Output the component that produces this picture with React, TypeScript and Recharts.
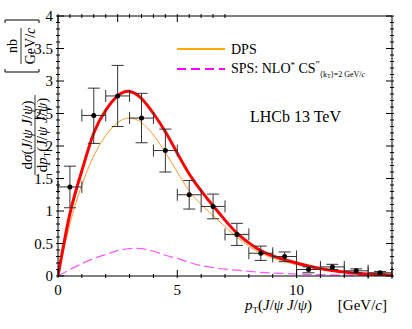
import React from 'react';
import { ComposedChart, Line, Scatter, ErrorBar, XAxis, YAxis, Customized } from 'recharts';

const ptGrid = [0, 0.5, 1, 1.5, 2, 2.5, 3, 3.5, 4, 4.5, 5, 5.5, 6, 6.5, 7, 7.5, 8, 8.5, 9, 9.5, 10, 10.5, 11, 11.5, 12, 12.5, 13, 13.5, 14];
const totalFit = [0, 0.96, 1.62, 2.2, 2.55, 2.77, 2.84, 2.73, 2.5, 2.22, 1.89, 1.57, 1.31, 1.08, 0.86, 0.66, 0.51, 0.39, 0.31, 0.25, 0.2, 0.155, 0.115, 0.085, 0.06, 0.042, 0.03, 0.021, 0.015];
const dpsFit = [0, 0.8, 1.4, 1.85, 2.16, 2.36, 2.43, 2.36, 2.17, 1.9, 1.6, 1.31, 1.1, 0.93, 0.76, 0.6, 0.46, 0.35, 0.28, 0.22, 0.175, 0.135, 0.1, 0.075, 0.053, 0.037, 0.026, 0.018, 0.013];
const spsFit = [0, 0.1, 0.19, 0.27, 0.33, 0.39, 0.42, 0.42, 0.38, 0.32, 0.27, 0.21, 0.16, 0.13, 0.105, 0.09, 0.072, 0.057, 0.046, 0.038, 0.03, 0.025, 0.02, 0.016, 0.012, 0.01, 0.008, 0.006, 0.005];

// LHCb data points
const binCentres = [0.5, 1.5, 2.5, 3.5, 4.5, 5.5, 6.5, 7.5, 8.5, 9.5, 10.5, 11.5, 12.5, 13.5];
const measured = [1.37, 2.47, 2.77, 2.43, 1.93, 1.25, 1.07, 0.64, 0.35, 0.3, 0.1, 0.14, 0.08, 0.05];
const errLow = [0.32, 0.43, 0.47, 0.38, 0.33, 0.22, 0.19, 0.17, 0.11, 0.08, 0.05, 0.04, 0.03, 0.02];
const errHigh = [0.32, 0.42, 0.47, 0.38, 0.33, 0.22, 0.19, 0.17, 0.11, 0.07, 0.04, 0.04, 0.03, 0.02];
const binHalfWidth = 0.5;

const xMajorLabels = ['0', '5', '10'];
const yMajorLabels = ['0', '0.5', '1', '1.5', '2', '2.5', '3', '3.5', '4'];

const curveData = ptGrid.map((x, i) => ({ x, total: totalFit[i], dps: dpsFit[i], sps: spsFit[i] }));
const points = binCentres.map((x, i) => ({
  x,
  y: measured[i],
  ey: [errLow[i], errHigh[i]],
  ex: [binHalfWidth, binHalfWidth],
}));

const xTickPos = Array.from({ length: 15 }, (_, i) => i);
const yTickPos = Array.from({ length: 41 }, (_, i) => i / 10);

const FONT = '"Liberation Serif", "DejaVu Serif", serif';

const findLabel = (labels: string[], v: number) => labels.find((l) => Math.abs(parseFloat(l) - v) < 1e-6);

const YTick = (props: any) => {
  const { x, y, payload, side } = props;
  const label = findLabel(yMajorLabels, payload.value);
  const len = label ? 8 : 4;
  const dir = side === 'left' ? 1 : -1;
  return (
    <g>
      <line x1={x} y1={y} x2={x + dir * len} y2={y} stroke="#000" strokeWidth={1} />
      {side === 'left' && label && (
        <text x={x - 3} y={y + 5} textAnchor="end" fontFamily={FONT} fontSize={15} fill="#000">
          {label}
        </text>
      )}
    </g>
  );
};

const XTick = (props: any) => {
  const { x, y, payload, side } = props;
  const label = findLabel(xMajorLabels, payload.value);
  const len = label ? 8 : 4;
  const dir = side === 'bottom' ? -1 : 1;
  return (
    <g>
      <line x1={x} y1={y} x2={x} y2={y + dir * len} stroke="#000" strokeWidth={1} />
      {side === 'bottom' && label && (
        <text x={x} y={y + 17} textAnchor="middle" fontFamily={FONT} fontSize={15} fill="#000">
          {label}
        </text>
      )}
    </g>
  );
};

const Annotations = () => (
  <g fontFamily={FONT} fill="#000">
    {/* legend */}
    <line x1={177} y1={49} x2={225} y2={49} stroke="#ffaa00" strokeWidth={2} />
    <text x={231} y={54} fontSize={14}>DPS</text>
    <line x1={177} y1={69} x2={225} y2={69} stroke="#ff00ff" strokeWidth={2} strokeDasharray="9 5" />
    <text x={231} y={73} fontSize={14}>
      SPS: NLO<tspan fontSize={9} dy={-5}>*</tspan>
      <tspan dy={5}> CS</tspan>
      <tspan fontSize={10} dy={-5}>″</tspan>
      <tspan fontSize={8} dy={9}>⟨k</tspan>
      <tspan fontSize={6} dy={1}>T</tspan>
      <tspan fontSize={8} dy={-1}>⟩=2 GeV/</tspan>
      <tspan fontSize={8} fontStyle="italic">c</tspan>
    </text>
    <text x={250} y={122} fontSize={16}>LHCb 13 TeV</text>

    {/* x title */}
    <text x={245} y={310} fontSize={15}>
      <tspan fontStyle="italic">p</tspan>
      <tspan fontSize={9} dy={3}>T</tspan>
      <tspan dy={-3}>(</tspan>
      <tspan fontStyle="italic">J</tspan>/<tspan fontStyle="italic">ψ</tspan> <tspan fontStyle="italic">J</tspan>/<tspan fontStyle="italic">ψ</tspan>)
    </text>
    <text x={387} y={310} fontSize={15} textAnchor="end">
      [GeV/<tspan fontStyle="italic">c</tspan>]
    </text>

    {/* y title: fraction */}
    <g transform="translate(35, 135) rotate(-90)">
      <text x={0} y={-3} fontSize={15} textAnchor="middle">
        d<tspan fontStyle="italic">σ</tspan>(<tspan fontStyle="italic">J</tspan>/<tspan fontStyle="italic">ψ</tspan> <tspan fontStyle="italic">J</tspan>/<tspan fontStyle="italic">ψ</tspan>)
      </text>
      <line x1={-40} y1={0} x2={40} y2={0} stroke="#000" strokeWidth={0.8} />
      <text x={0} y={12} fontSize={15} textAnchor="middle">
        d<tspan fontStyle="italic">p</tspan>
        <tspan fontSize={9} dy={3}>T</tspan>
        <tspan dy={-3}>(</tspan>
        <tspan fontStyle="italic">J</tspan>/<tspan fontStyle="italic">ψ</tspan> <tspan fontStyle="italic">J</tspan>/<tspan fontStyle="italic">ψ</tspan>)
      </text>
    </g>
    {/* y title: units */}
    <g transform="translate(21, 46) rotate(-90)">
      <text x={0} y={-4} fontSize={14} textAnchor="middle">nb</text>
      <line x1={-18} y1={0} x2={18} y2={0} stroke="#000" strokeWidth={0.8} />
      <text x={0} y={14} fontSize={14} textAnchor="middle">
        GeV/<tspan fontStyle="italic">c</tspan>
      </text>
      <path d="M -23 -16 L -26 -16 L -26 18 L -23 18" fill="none" stroke="#000" strokeWidth={1} />
      <path d="M 23 -16 L 26 -16 L 26 18 L 23 18" fill="none" stroke="#000" strokeWidth={1} />
    </g>
  </g>
);

const Dot = (p: any) => <circle cx={p.cx} cy={p.cy} r={2.5} fill="#000" />;

export default function App() {
  return (
    <div style={{ position: 'absolute', left: 0, top: 0, background: '#fff' }}>
      <ComposedChart width={412} height={329} data={curveData} margin={{ top: 0, right: 0, bottom: 0, left: 0 }}>
        <XAxis
          xAxisId={0}
          dataKey="x"
          type="number"
          domain={[0, 14]}
          ticks={xTickPos}
          interval={0}
          height={53}
          tickSize={0}
          tickLine={false}
          axisLine={{ stroke: '#000', strokeWidth: 1 }}
          tick={(p: any) => <XTick {...p} side="bottom" />}
          allowDataOverflow
        />
        <XAxis
          xAxisId="top"
          orientation="top"
          type="number"
          domain={[0, 14]}
          ticks={xTickPos}
          interval={0}
          height={16}
          tickSize={0}
          tickLine={false}
          axisLine={{ stroke: '#000', strokeWidth: 1 }}
          tick={(p: any) => <XTick {...p} side="top" />}
          allowDataOverflow
        />
        <YAxis
          yAxisId={0}
          type="number"
          domain={[0, 4]}
          ticks={yTickPos}
          interval={0}
          width={58}
          tickSize={0}
          tickLine={false}
          axisLine={{ stroke: '#000', strokeWidth: 1 }}
          tick={(p: any) => <YTick {...p} side="left" />}
          allowDataOverflow
        />
        <YAxis
          yAxisId="right"
          orientation="right"
          type="number"
          domain={[0, 4]}
          ticks={yTickPos}
          interval={0}
          width={20}
          tickSize={0}
          tickLine={false}
          axisLine={{ stroke: '#000', strokeWidth: 1 }}
          tick={(p: any) => <YTick {...p} side="right" />}
          allowDataOverflow
        />
        <Line dataKey="sps" type="natural" stroke="#ff55ff" strokeWidth={1.2} strokeDasharray="10 4" dot={false} isAnimationActive={false} />
        <Line dataKey="dps" type="natural" stroke="#ff9933" strokeWidth={1} dot={false} isAnimationActive={false} />
        <Line dataKey="total" type="natural" stroke="#ff0000" strokeWidth={3} dot={false} isAnimationActive={false} />
        <Scatter data={points} dataKey="y" shape={Dot} isAnimationActive={false}>
          <ErrorBar dataKey="ey" direction="y" width={6} stroke="#333" strokeWidth={1} isAnimationActive={false} />
          <ErrorBar dataKey="ex" direction="x" width={6} stroke="#333" strokeWidth={1} isAnimationActive={false} />
        </Scatter>
        <Customized component={Annotations} />
      </ComposedChart>
    </div>
  );
}
